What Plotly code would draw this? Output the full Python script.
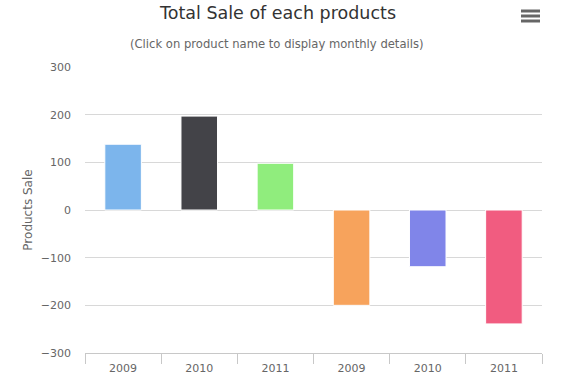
import plotly.graph_objects as go

# Data
years = ["2009", "2010", "2011", "2009", "2010", "2011"]
sales = [138, 197, 98, -200, -119, -239]
colors = ["#7cb5ec", "#434348", "#90ed7d", "#f7a35c", "#8085e9", "#f15c80"]
y_ticks = [-300, -200, -100, 0, 100, 200, 300]

positions = list(range(len(years)))
boundaries = [i - 0.5 for i in range(len(years) + 1)]

FONT = "DejaVu Sans"

fig = go.Figure(
    go.Bar(
        x=positions,
        y=sales,
        marker=dict(color=colors, line=dict(width=1, color="#ffffff")),
        width=0.48,
        hoverinfo="y",
    )
)

fig.update_layout(
    width=567,
    height=377,
    margin=dict(l=85, r=25, t=67, b=24, autoexpand=False),
    paper_bgcolor="#ffffff",
    plot_bgcolor="#ffffff",
    showlegend=False,
    font=dict(family=FONT, color="#666666"),
    title=dict(
        text="Total Sale of each products",
        x=278 / 567,
        xref="container",
        xanchor="center",
        y=1 - 13 / 377,
        yref="container",
        yanchor="middle",
        font=dict(family=FONT, size=17.5, color="#333333"),
    ),
    annotations=[
        dict(
            text="(Click on product name to display monthly details)",
            xref="paper",
            yref="paper",
            x=(277 - 85) / 457,
            y=(353 - 44) / 286,
            xanchor="center",
            yanchor="middle",
            showarrow=False,
            font=dict(family=FONT, size=11.6, color="#666666"),
        )
    ],
    shapes=[
        dict(
            type="line",
            xref="paper",
            yref="paper",
            x0=(521 - 85) / 457,
            x1=(540 - 85) / 457,
            y0=(353 - yy) / 286,
            y1=(353 - yy) / 286,
            line=dict(color="#666666", width=3),
        )
        for yy in (11, 16, 21)
    ],
    xaxis=dict(
        type="linear",
        range=[-0.5, len(years) - 0.5],
        tickmode="array",
        tickvals=positions,
        ticktext=years,
        ticks="",
        showgrid=False,
        zeroline=False,
        showline=True,
        linecolor="#c8c8c8",
        linewidth=1,
        tickfont=dict(family=FONT, size=11, color="#666666"),
        ticklabelstandoff=5,
        automargin=False,
        minor=dict(
            tickmode="array",
            tickvals=boundaries,
            ticks="outside",
            ticklen=10,
            tickcolor="#c8c8c8",
            tickwidth=1,
            showgrid=False,
        ),
        fixedrange=True,
    ),
    yaxis=dict(
        range=[-300, 300],
        tickmode="array",
        tickvals=y_ticks,
        ticks="",
        showgrid=True,
        gridcolor="#d8d8d8",
        gridwidth=1,
        zeroline=False,
        showline=False,
        automargin=False,
        tickfont=dict(family=FONT, size=11, color="#666666"),
        ticklabelstandoff=13,
        title=dict(
            text="Products Sale",
            font=dict(family=FONT, size=12, color="#666666"),
            standoff=5,
        ),
        fixedrange=True,
    ),
)

fig.write_html(
    "out.html",
    config=dict(displayModeBar=False),
    post_script="document.body.style.margin='0';document.body.style.overflow='hidden';",
)
